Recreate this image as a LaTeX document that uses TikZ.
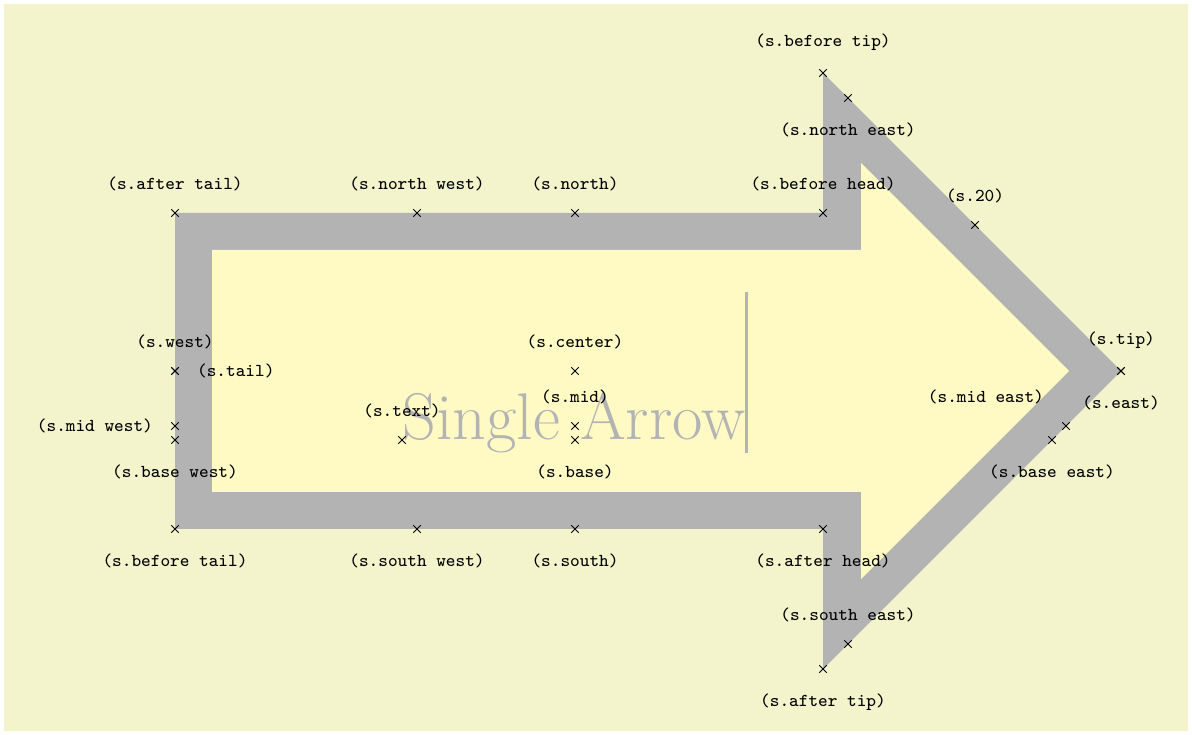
\documentclass[tikz,border=0pt]{standalone}
\definecolor{bgc}{RGB}{243,244,204}
\definecolor{fillc}{RGB}{255,249,196}
\definecolor{edgec}{RGB}{179,179,179}
\begin{document}
\begin{tikzpicture}[x=0.3846pt,y=-0.3846pt,
  lbl/.style={inner sep=8.3pt,font=\scriptsize\ttfamily,text=black},
  bl/.style={below,yshift=-1pt},
  xmk/.style={black,line width=0.4pt}]
\useasboundingbox (0,0) rectangle (1192,735);
\fill[bgc] (4,4) rectangle (1188,731);
% arrow outline (gray band) and interior
\fill[edgec] (175,213) -- (823,213) -- (823,73) -- (1121,371) -- (823,669) -- (823,529) -- (175,529) -- cycle;
\fill[fillc] (212,250) -- (861,250) -- (861,163) -- (1069,371) -- (861,579) -- (861,492) -- (212,492) -- cycle;
% anchors
\coordinate (s-text) at (402,440);
\coordinate (s-center) at (575,371);
\coordinate (s-20) at (975,225);
\coordinate (s-midwest) at (175,426);
\coordinate (s-mid) at (575,426);
\coordinate (s-mideast) at (1066,426);
\coordinate (s-basewest) at (175,440);
\coordinate (s-base) at (575,440);
\coordinate (s-baseeast) at (1052,440);
\coordinate (s-tip) at (1121,371);
\coordinate (s-beforetip) at (823,73);
\coordinate (s-aftertip) at (823,669);
\coordinate (s-beforehead) at (823,213);
\coordinate (s-afterhead) at (823,529);
\coordinate (s-beforetail) at (175,529);
\coordinate (s-aftertail) at (175,213);
\coordinate (s-north) at (575,213);
\coordinate (s-south) at (575,529);
\coordinate (s-east) at (1121,371);
\coordinate (s-west) at (175,371);
\coordinate (s-northwest) at (417,213);
\coordinate (s-northeast) at (848,98);
\coordinate (s-southwest) at (417,529);
\coordinate (s-southeast) at (848,644);
\coordinate (s-tail) at (175,371);
% text of the shape
\node[font=\fontsize{25.4pt}{30pt}\selectfont,text=edgec,anchor=base west,inner sep=0pt] (s) at (s-text)
  {Single Arrow\vrule width 1pt height 2cm};
% marks and labels
\foreach \anc/\txt/\plc in {text/text/above, center/center/above, 20/20/above,
   midwest/mid west/left, mid/mid/above, mideast/mid east/above left,
   basewest/base west/bl, base/base/bl, baseeast/base east/bl,
   tip/tip/above, beforetip/before tip/above, aftertip/after tip/bl,
   beforehead/before head/above, afterhead/after head/bl,
   beforetail/before tail/bl, aftertail/after tail/above,
   north/north/above, south/south/bl, east/east/bl, west/west/above,
   northwest/north west/above, northeast/north east/bl,
   southwest/south west/bl, southeast/south east/above, tail/tail/right}
{
  \draw[xmk] plot[mark=x] coordinates {(s-\anc)};
  \node[lbl,\plc] (l-\anc) at (s-\anc) {(s.\txt)};
}
\end{tikzpicture}
\end{document}
